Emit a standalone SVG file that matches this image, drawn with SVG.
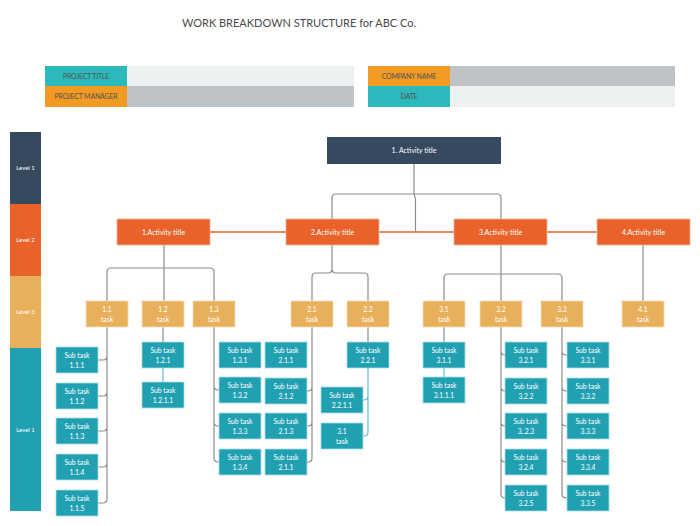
<svg xmlns="http://www.w3.org/2000/svg" width="700" height="526" viewBox="0 0 700 526">
<style>
text{font-family:Lato,"Open Sans","Liberation Sans",sans-serif;text-anchor:middle;}
.title{font-size:11px;fill:#4a4a4a;}
.hl{font-size:7px;fill:#555;letter-spacing:-0.2px;}
.lv{font-size:6px;fill:#fff;}
.nt{font-size:7px;fill:#fff;}
.st{font-size:6.8px;fill:#fff;}
.l1{fill:#36495f;}
.l2{fill:#e8622a;stroke:#f4b59a;stroke-width:0.8;}
.l3{fill:#e9b05c;stroke:#f6dcb3;stroke-width:0.8;}
.sub{fill:#21a0b2;stroke:#a9dde4;stroke-width:0.8;}
.conn{fill:none;stroke:#8c8c8c;stroke-width:1.2;}
.tl{fill:none;stroke:#5fbfcc;stroke-width:1.2;}
.or{fill:none;stroke:#e8622a;stroke-width:1.4;}
</style>
<rect width="700" height="526" fill="#fff"/>
<text class="title" x="299" y="27">WORK BREAKDOWN STRUCTURE for ABC Co.</text>
<g id="header">
<rect x="45" y="66" width="82" height="20" fill="#2cb9bb"/>
<rect x="127" y="66" width="227" height="20" fill="#ecf0f1"/>
<rect x="45" y="86" width="82" height="21" fill="#f29b22"/>
<rect x="127" y="86" width="227" height="21" fill="#bdc3c6"/>
<text class="hl" x="86" y="78.5">PROJECT TITLE</text>
<text class="hl" x="86" y="99">PROJECT MANAGER</text>
<rect x="368" y="66" width="82" height="20" fill="#f29b22"/>
<rect x="450" y="66" width="225" height="20" fill="#bdc3c6"/>
<rect x="368" y="86" width="82" height="21" fill="#2cb9bb"/>
<rect x="450" y="86" width="225" height="21" fill="#ecf0f1"/>
<text class="hl" x="409" y="78.5">COMPANY NAME</text>
<text class="hl" x="409" y="99">DATE</text>
</g>
<g id="levels">
<rect x="10" y="132" width="31" height="72" fill="#36495f"/>
<rect x="10" y="204" width="31" height="72" fill="#e8622a"/>
<rect x="10" y="276" width="31" height="72" fill="#e9b05c"/>
<rect x="10" y="348" width="31" height="163" fill="#21a0b2"/>
<text class="lv" x="25.5" y="170">Level 1</text>
<text class="lv" x="25.5" y="242">Level 2</text>
<text class="lv" x="25.5" y="314">Level 3</text>
<text class="lv" x="25.5" y="432">Level 1</text>
</g>
<g id="connectors">
<path class="or" d="M210 232H597"/>
<path class="conn" d="M414 164V194M336 194H497Q501 194 501 198V219M336 194Q332 194 332 198V219M414 194L415.5 199V232"/>
<path class="conn" d="M164 245V268M111 268H210Q214 268 214 272V301M111 268Q107 268 107 272V301M164 268V301"/>
<path class="conn" d="M332 245V269Q332 273 328 273H316Q312 273 312 277V301M332 269Q332 273 336 273H364Q368 273 368 277V301"/>
<path class="conn" d="M501 245V301M448 274H558Q562 274 562 278V301M448 274Q444 274 444 278V301"/>
<path class="conn" d="M643 245V301"/>
<path class="conn" d="M107 327V499Q107 503 103 503H98M98 360H103Q107 360 107 356M98 396H103Q107 396 107 392M98 431H103Q107 431 107 427M98 467H103Q107 467 107 463"/>
<path class="conn" d="M163 327V342"/>
<path class="tl" d="M163 368V382"/>
<path class="conn" d="M214 327V458Q214 462 218 462H219M219 390H218Q214 390 214 386M219 426H218Q214 426 214 422"/>
<path class="conn" d="M312 327V458Q312 462 308 462H307M307 391H308Q312 391 312 387M307 426H308Q312 426 312 422"/>
<path class="conn" d="M368 327V342"/>
<path class="tl" d="M368 368V432Q368 436 364 436H363M363 400H364Q368 400 368 396"/>
<path class="conn" d="M444 327V342"/>
<path class="tl" d="M444 368V377"/>
<path class="conn" d="M501 327V494Q501 498 505 498M505 355Q501 355 501 351M505 391Q501 391 501 387M505 426Q501 426 501 422M505 462Q501 462 501 458"/>
<path class="conn" d="M562 327V494Q562 498 567 498M567 355H566Q562 355 562 351M567 391H566Q562 391 562 387M567 426H566Q562 426 562 422M567 462H566Q562 462 562 458"/>
</g>
<g id="n1"><rect class="l1" x="327" y="137" width="174" height="27"/><text class="nt" x="414" y="153">1. Activity title</text></g>
<g id="a1"><rect class="l2" x="117" y="219" width="93" height="26"/><text class="nt" x="163.5" y="234.5">1.Activity title</text></g>
<g id="a2"><rect class="l2" x="286" y="219" width="93" height="26"/><text class="nt" x="332.5" y="234.5">2.Activity title</text></g>
<g id="a3"><rect class="l2" x="454" y="219" width="93" height="26"/><text class="nt" x="500.5" y="234.5">3.Activity title</text></g>
<g id="a4"><rect class="l2" x="597" y="219" width="93" height="26"/><text class="nt" x="643.5" y="234.5">4.Activity title</text></g>
<g id="t11"><rect class="l3" x="86" y="301" width="42" height="26"/><text class="st" x="107" y="312">1.1</text><text class="st" x="107" y="322">task</text></g>
<g id="t12"><rect class="l3" x="142" y="301" width="42" height="26"/><text class="st" x="163" y="312">1.2</text><text class="st" x="163" y="322">task</text></g>
<g id="t13"><rect class="l3" x="193" y="301" width="42" height="26"/><text class="st" x="214" y="312">1.3</text><text class="st" x="214" y="322">task</text></g>
<g id="t21"><rect class="l3" x="291" y="301" width="42" height="26"/><text class="st" x="312" y="312">2.1</text><text class="st" x="312" y="322">task</text></g>
<g id="t22"><rect class="l3" x="347" y="301" width="42" height="26"/><text class="st" x="368" y="312">2.2</text><text class="st" x="368" y="322">task</text></g>
<g id="t31"><rect class="l3" x="423" y="301" width="42" height="26"/><text class="st" x="444" y="312">3.1</text><text class="st" x="444" y="322">task</text></g>
<g id="t32"><rect class="l3" x="480" y="301" width="42" height="26"/><text class="st" x="501" y="312">3.2</text><text class="st" x="501" y="322">task</text></g>
<g id="t33"><rect class="l3" x="541" y="301" width="42" height="26"/><text class="st" x="562" y="312">3.3</text><text class="st" x="562" y="322">task</text></g>
<g id="t41"><rect class="l3" x="622" y="301" width="42" height="26"/><text class="st" x="643" y="312">4.1</text><text class="st" x="643" y="322">task</text></g>
<g id="s111"><rect class="sub" x="56" y="347" width="42" height="26"/><text class="st" x="77" y="357.5">Sub task</text><text class="st" x="77" y="367.5">1.1.1</text></g>
<g id="s112"><rect class="sub" x="56" y="383" width="42" height="26"/><text class="st" x="77" y="393.5">Sub task</text><text class="st" x="77" y="403.5">1.1.2</text></g>
<g id="s113"><rect class="sub" x="56" y="418" width="42" height="26"/><text class="st" x="77" y="428.5">Sub task</text><text class="st" x="77" y="438.5">1.1.3</text></g>
<g id="s114"><rect class="sub" x="56" y="454" width="42" height="26"/><text class="st" x="77" y="464.5">Sub task</text><text class="st" x="77" y="474.5">1.1.4</text></g>
<g id="s115"><rect class="sub" x="56" y="490" width="42" height="26"/><text class="st" x="77" y="500.5">Sub task</text><text class="st" x="77" y="510.5">1.1.5</text></g>
<g id="s121"><rect class="sub" x="142" y="342" width="42" height="26"/><text class="st" x="163" y="352.5">Sub task</text><text class="st" x="163" y="362.5">1.2.1</text></g>
<g id="s1211"><rect class="sub" x="142" y="382" width="42" height="26"/><text class="st" x="163" y="392.5">Sub task</text><text class="st" x="163" y="402.5">1.2.1.1</text></g>
<g id="s131"><rect class="sub" x="219" y="342" width="42" height="26"/><text class="st" x="240" y="352.5">Sub task</text><text class="st" x="240" y="362.5">1.3.1</text></g>
<g id="s132"><rect class="sub" x="219" y="377" width="42" height="26"/><text class="st" x="240" y="387.5">Sub task</text><text class="st" x="240" y="397.5">1.3.2</text></g>
<g id="s133"><rect class="sub" x="219" y="413" width="42" height="26"/><text class="st" x="240" y="423.5">Sub task</text><text class="st" x="240" y="433.5">1.3.3</text></g>
<g id="s134"><rect class="sub" x="219" y="449" width="42" height="26"/><text class="st" x="240" y="459.5">Sub task</text><text class="st" x="240" y="469.5">1.3.4</text></g>
<g id="s211"><rect class="sub" x="265" y="342" width="42" height="26"/><text class="st" x="286" y="352.5">Sub task</text><text class="st" x="286" y="362.5">2.1.1</text></g>
<g id="s212"><rect class="sub" x="265" y="378" width="42" height="26"/><text class="st" x="286" y="388.5">Sub task</text><text class="st" x="286" y="398.5">2.1.2</text></g>
<g id="s213"><rect class="sub" x="265" y="413" width="42" height="26"/><text class="st" x="286" y="423.5">Sub task</text><text class="st" x="286" y="433.5">2.1.3</text></g>
<g id="s214"><rect class="sub" x="265" y="449" width="42" height="26"/><text class="st" x="286" y="459.5">Sub task</text><text class="st" x="286" y="469.5">2.1.1</text></g>
<g id="s221"><rect class="sub" x="347" y="342" width="42" height="26"/><text class="st" x="368" y="352.5">Sub task</text><text class="st" x="368" y="362.5">2.2.1</text></g>
<g id="s2211"><rect class="sub" x="321" y="387" width="42" height="26"/><text class="st" x="342" y="397.5">Sub task</text><text class="st" x="342" y="407.5">2.2.1.1</text></g>
<g id="s31t"><rect class="sub" x="321" y="423" width="42" height="26"/><text class="st" x="342" y="433.5">3.1</text><text class="st" x="342" y="443.5">task</text></g>
<g id="s311"><rect class="sub" x="423" y="342" width="42" height="26"/><text class="st" x="444" y="352.5">Sub task</text><text class="st" x="444" y="362.5">3.1.1</text></g>
<g id="s3111"><rect class="sub" x="423" y="377" width="42" height="26"/><text class="st" x="444" y="387.5">Sub task</text><text class="st" x="444" y="397.5">3.1.1.1</text></g>
<g id="s321"><rect class="sub" x="505" y="342" width="42" height="26"/><text class="st" x="526" y="352.5">Sub task</text><text class="st" x="526" y="362.5">3.2.1</text></g>
<g id="s322"><rect class="sub" x="505" y="378" width="42" height="26"/><text class="st" x="526" y="388.5">Sub task</text><text class="st" x="526" y="398.5">3.2.2</text></g>
<g id="s323"><rect class="sub" x="505" y="413" width="42" height="26"/><text class="st" x="526" y="423.5">Sub task</text><text class="st" x="526" y="433.5">3..2.3</text></g>
<g id="s324"><rect class="sub" x="505" y="449" width="42" height="26"/><text class="st" x="526" y="459.5">Sub task</text><text class="st" x="526" y="469.5">3.2.4</text></g>
<g id="s325"><rect class="sub" x="505" y="485" width="42" height="26"/><text class="st" x="526" y="495.5">Sub task</text><text class="st" x="526" y="505.5">3.2.5</text></g>
<g id="s331"><rect class="sub" x="567" y="342" width="42" height="26"/><text class="st" x="588" y="352.5">Sub task</text><text class="st" x="588" y="362.5">3.3.1</text></g>
<g id="s332"><rect class="sub" x="567" y="378" width="42" height="26"/><text class="st" x="588" y="388.5">Sub task</text><text class="st" x="588" y="398.5">3.3.2</text></g>
<g id="s333"><rect class="sub" x="567" y="413" width="42" height="26"/><text class="st" x="588" y="423.5">Sub task</text><text class="st" x="588" y="433.5">3.3.3</text></g>
<g id="s334"><rect class="sub" x="567" y="449" width="42" height="26"/><text class="st" x="588" y="459.5">Sub task</text><text class="st" x="588" y="469.5">3.3.4</text></g>
<g id="s335"><rect class="sub" x="567" y="485" width="42" height="26"/><text class="st" x="588" y="495.5">Sub task</text><text class="st" x="588" y="505.5">3.3.5</text></g>
</svg>
